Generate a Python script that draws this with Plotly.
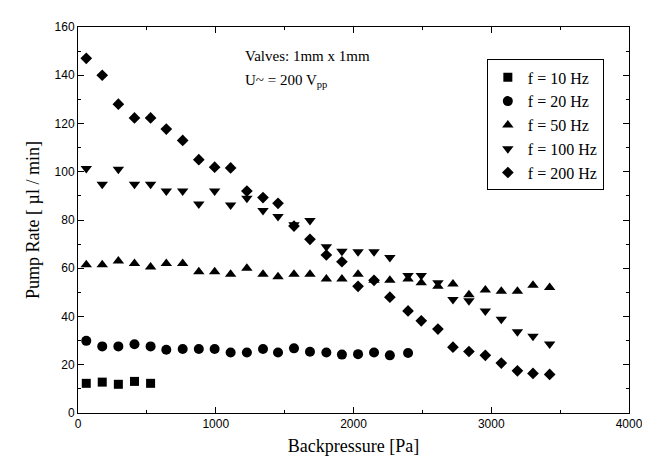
import plotly.graph_objects as go

# Backpressure positions [Pa]
x_pos = [60, 176, 293, 410, 527, 641, 760, 877, 992, 1108, 1226, 1343, 1452, 1568, 1684,
         1803, 1916, 2033, 2149, 2264, 2396, 2492, 2613, 2722, 2838, 2957, 3073, 3190, 3303, 3424]

# Pump rates [ul/min]
f10 = [12.3, 12.8, 11.9, 13.1, 12.3]
f20 = [29.9, 27.6, 27.6, 28.5, 27.6, 26.2, 26.5, 26.5, 26.5, 25.1, 25.1, 26.5, 25.1, 26.8,
       25.4, 25.1, 24.2, 24.4, 25.1, 23.9, 24.9]
f50 = [61.5, 61.5, 63.0, 62.0, 60.5, 62.0, 62.0, 58.5, 58.5, 57.5, 60.0, 57.5, 56.5, 57.5,
       57.5, 55.5, 55.5, 57.5, 55.0, 55.0, 55.5, 54.0, 52.5, 53.5, 49.0, 51.0, 50.5, 50.5,
       53.0, 52.0]
f100 = [101.3, 94.8, 101.0, 94.8, 94.8, 92.0, 92.0, 86.6, 92.0, 86.2, 89.0, 83.9, 81.4, 78.0,
        79.8, 68.9, 67.0, 66.8, 66.8, 64.5, 57.0, 57.0, 54.0, 47.0, 46.5, 42.3, 38.9, 33.7,
        31.8, 28.6]
f200 = [147.0, 140.0, 128.0, 122.3, 122.3, 117.7, 113.0, 105.0, 101.9, 101.6, 92.0, 89.3,
        86.9, 77.5, 72.0, 65.5, 62.7, 52.5, 55.0, 48.0, 42.3, 38.2, 34.8, 27.3, 25.5, 23.9,
        20.7, 17.5, 16.4, 16.0]

series = [
    ("f = 10 Hz", f10, "square", 9),
    ("f = 20 Hz", f20, "circle", 10),
    ("f = 50 Hz", f50, "triangle-up", 10),
    ("f = 100 Hz", f100, "triangle-down", 10),
    ("f = 200 Hz", f200, "diamond", 9),
]

SERIF = "Liberation Serif"
SANS = "Liberation Sans Narrow, Liberation Sans, Arial, sans-serif"

fig = go.Figure()
for name, vals, sym, size in series:
    fig.add_trace(go.Scatter(
        x=x_pos[:len(vals)], y=vals, mode="markers", name=name,
        marker=dict(symbol=sym, size=size, color="black", line=dict(width=0)),
    ))

axis_common = dict(
    showline=True, linecolor="black", linewidth=1, mirror="ticks",
    ticks="inside", ticklen=6, tickcolor="black", showgrid=False, zeroline=False,
    tickfont=dict(family=SANS, size=12, color="black"),
)

fig.update_layout(
    width=650, height=461,
    margin=dict(l=70, r=29, t=14, b=56),
    paper_bgcolor="white", plot_bgcolor="white",
    font=dict(family=SERIF, color="black"),
    xaxis=dict(range=[0, 4000], dtick=1000, tick0=0,
               minor=dict(ticks="inside", ticklen=3, dtick=500, tickcolor="black"),
               title=dict(text="Backpressure [Pa]", font=dict(family=SERIF, size=18, color="black"),
                          standoff=8),
               **axis_common),
    yaxis=dict(range=[0, 160], dtick=20, tick0=0,
               minor=dict(ticks="inside", ticklen=3, dtick=10, tickcolor="black"),
               title=dict(text="Pump Rate [ µl / min]", font=dict(family=SERIF, size=18, color="black"),
                          standoff=10),
               **axis_common),
    legend=dict(x=0.742, y=0.916, xanchor="left", yanchor="top",
                bordercolor="black", borderwidth=1, bgcolor="white",
                font=dict(family=SERIF, size=16, color="black")),
    showlegend=True,
)

fig.add_annotation(x=0.30, y=0.925, xref="paper", yref="paper", xanchor="left", yanchor="middle",
                   text="Valves: 1mm x 1mm", showarrow=False,
                   font=dict(family=SERIF, size=15, color="black"))
fig.add_annotation(x=0.30, y=0.86, xref="paper", yref="paper", xanchor="left", yanchor="middle",
                   text="U~ = 200 V<sub>pp</sub>", showarrow=False,
                   font=dict(family=SERIF, size=15, color="black"))

fig.write_html("out.html")
